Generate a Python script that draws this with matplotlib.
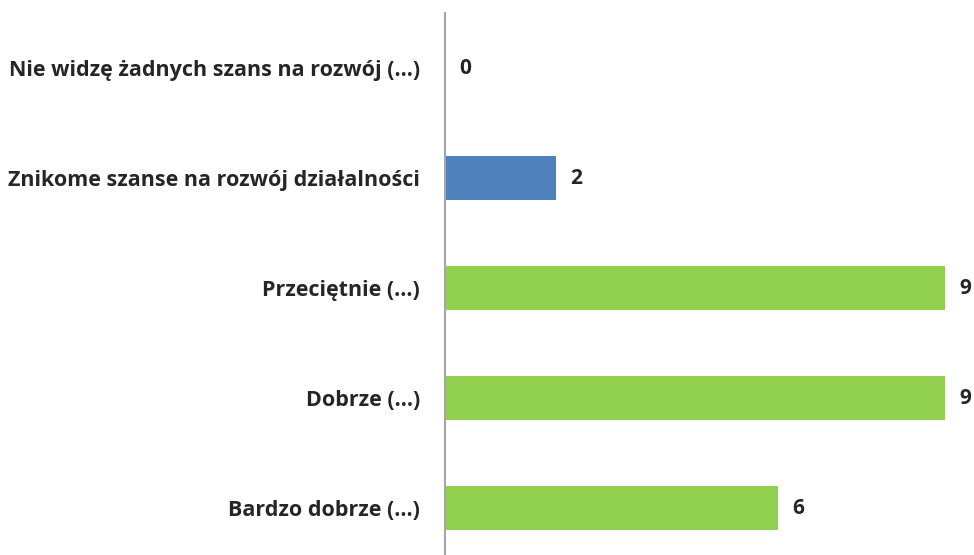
import matplotlib.pyplot as plt

# Ocena szans na rozwój działalności
kategorie = [
    "Nie widzę żadnych szans na rozwój (…)",
    "Znikome szanse na rozwój działalności",
    "Przeciętnie (…)",
    "Dobrze (…)",
    "Bardzo dobrze (…)",
]
liczby = [0, 2, 9, 9, 6]
kolory = ["#4F81BD", "#4F81BD", "#92D050", "#92D050", "#92D050"]

plt.rcParams["font.family"] = ["Open Sans", "DejaVu Sans"]

fig = plt.figure(figsize=(9.74, 5.55), dpi=100)
# oś zaczyna się przy x=445 px, od góry 13 px do dołu obrazka
ax = fig.add_axes([445 / 974, 0, 529 / 974, 542 / 555])

y = list(range(len(kategorie)))
ax.barh(y, liczby, height=0.4, color=kolory)

skala = 500 / 9  # px na jednostkę
ax.set_xlim(0, 529 / skala)
ax.set_ylim(-0.5 + 542 / 110, -0.5)

for yi, v in zip(y, liczby):
    ax.annotate(str(v), (v, yi), xytext=(10, 0), textcoords="offset points",
                ha="left", va="center", fontsize=15, fontweight="bold",
                color="#262626", annotation_clip=False)

ax.set_yticks(y)
ax.set_yticklabels(kategorie, fontsize=15.5, fontweight="bold", color="#262626")
ax.tick_params(axis="y", length=0, pad=18)
ax.set_xticks([])

for s in ["top", "right", "bottom"]:
    ax.spines[s].set_visible(False)
ax.spines["left"].set_color("#A6A6A6")
ax.spines["left"].set_linewidth(1.5)

fig.savefig("out.png", dpi=100)
